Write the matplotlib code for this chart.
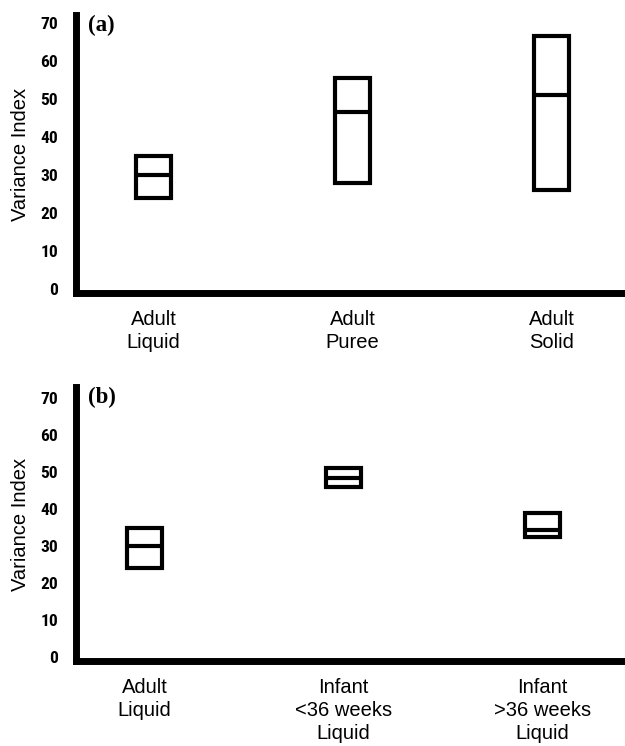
import matplotlib
matplotlib.use("Agg")
import matplotlib.pyplot as plt

# Panel (a): adult swallows by bolus consistency
cats_a = ["Adult\nLiquid", "Adult\nPuree", "Adult\nSolid"]
low_a = [24, 28, 26]
med_a = [30, 46.5, 51]
high_a = [35, 55.5, 66.5]

# Panel (b): adult vs infant liquid swallows
cats_b = ["Adult\nLiquid", "Infant\n<36 weeks\nLiquid", "Infant\n>36 weeks\nLiquid"]
low_b = [24, 46, 32.5]
med_b = [30, 48.5, 34.5]
high_b = [35, 51, 39]

yticks = [0, 10, 20, 30, 40, 50, 60, 70]

fig = plt.figure(figsize=(6.25, 7.46), dpi=100)
ax_a = fig.add_axes([76 / 625, 1 - 293 / 746, 1 - 76 / 625, (293 - 15) / 746])
ax_b = fig.add_axes([76 / 625, 1 - 661 / 746, 1 - 76 / 625, (661 - 387) / 746])

tick_font = dict(family=["Roboto Condensed", "Liberation Sans", "DejaVu Sans"],
                 weight="bold", size=12.5)
text_font = ["Liberation Sans", "DejaVu Sans"]


def draw_panel(ax, cats, low, med, high, xlim, ylim, tag):
    x = list(range(len(cats)))
    heights = [h - l for h, l in zip(high, low)]
    ax.bar(x, heights, bottom=low, width=0.18, fill=False,
           edgecolor="black", linewidth=3.0)
    ax.hlines(med, [i - 0.09 for i in x], [i + 0.09 for i in x],
              colors="black", linewidth=3.0)
    ax.set_xlim(*xlim)
    ax.set_ylim(*ylim)
    ax.set_yticks(yticks)
    ax.set_yticklabels([str(t) for t in yticks], fontdict=tick_font)
    ax.set_xticks(x)
    ax.set_xticklabels(cats, family=text_font, size=14.5, linespacing=1.27)
    ax.tick_params(axis="both", length=0)
    ax.tick_params(axis="y", pad=13)
    ax.tick_params(axis="x", pad=12)
    for side in ("top", "right"):
        ax.spines[side].set_visible(False)
    for side in ("left", "bottom"):
        ax.spines[side].set_linewidth(5)
        ax.spines[side].set_capstyle("projecting")
    ax.set_ylabel("Variance Index", family=text_font, size=14.5, labelpad=7)
    ax.text(0.022, 1.0, tag, transform=ax.transAxes, ha="left", va="top",
            family=["Liberation Serif", "DejaVu Serif"], weight="bold", size=16.5)


draw_panel(ax_a, cats_a, low_a, med_a, high_a, (-0.389, 2.369), (-1, 72), "(a)")
draw_panel(ax_b, cats_b, low_b, med_b, high_b, (-0.344, 2.415), (-1, 73), "(b)")

fig.savefig("out.png", dpi=100)
